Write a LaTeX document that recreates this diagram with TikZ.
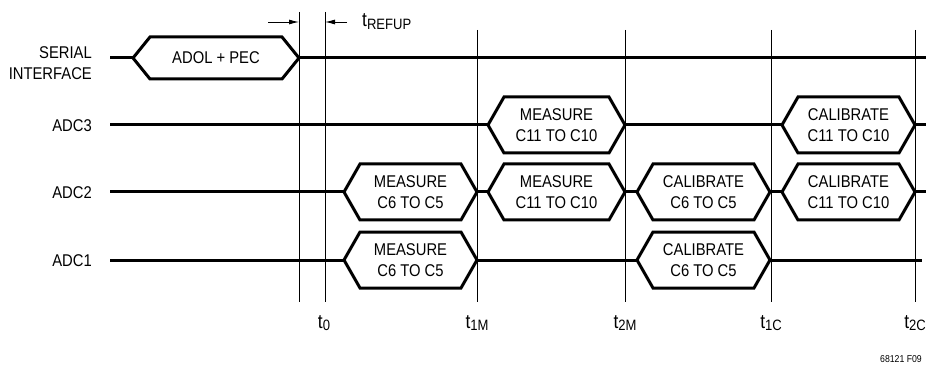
\documentclass[tikz,border=0pt]{standalone}
\usepackage{fontspec}
\setmainfont{Liberation Sans}[FakeStretch=0.87]
\usetikzlibrary{arrows.meta, calc}

\tikzset{
 sig/.style={line width=3pt},
 mark line/.style={line width=0.9pt},
 lbl/.style={inner sep=0pt, align=center, font=\fontsize{17}{20.5}\selectfont},
 name lbl/.style={inner sep=0pt, align=right, anchor=east, font=\fontsize{17}{21.5}\selectfont},
 tarrow/.style={line width=0.9pt, -{Latex[length=10pt,width=5pt]}}
}

% time label: t with a subscript
\newcommand{\tlab}[1]{{\fontsize{20}{20}\selectfont t}\raisebox{-0.3ex}{\fontsize{15}{15}\selectfont #1}}

% bus box: name, left tip x, right tip x, y, half height, slant, text
\newcommand{\busbox}[7]{
 \coordinate (#1L) at (#2,#4);
 \coordinate (#1R) at (#3,#4);
 \draw[sig] (#1L) -- ++(#6,#5) -- ($(#1R)+(-#6,#5)$) -- (#1R)
   -- ($(#1R)+(-#6,-#5)$) -- ($(#1L)+(#6,-#5)$) -- cycle;
 \node[lbl] (#1) at ($(#1L)!0.5!(#1R)$) {#7};
}

\begin{document}
\begin{tikzpicture}[x=1pt, y=-1pt]

\useasboundingbox (0,0) rectangle (926,366);

 % row names
 \node[name lbl] (serial) at (92,63) {SERIAL\\INTERFACE};
 \node[name lbl] (adc3) at (92,126) {ADC3};
 \node[name lbl] (adc2) at (92,193) {ADC2};
 \node[name lbl] (adc1) at (92,261) {ADC1};

 % time marks
 \foreach \x/\n/\yt in {299/ta/12, 325/t0/12, 477/t1M/30, 625/t2M/30, 771/t1C/30, 915/t2C/30}{
  \coordinate (\n-top) at (\x,\yt);
  \coordinate (\n-bot) at (\x,302);
  \draw[mark line] (\n-top) -- (\n-bot);
 }
 \node[lbl, anchor=base] (lt0) at (324,328) {\tlab{0}};
 \node[lbl, anchor=base] (lt1M) at (477,328) {\tlab{1M}};
 \node[lbl, anchor=base] (lt2M) at (625,328) {\tlab{2M}};
 \node[lbl, anchor=base] (lt1C) at (771,328) {\tlab{1C}};
 \node[lbl, anchor=base] (lt2C) at (915,328) {\tlab{2C}};

 % t_REFUP
 \coordinate (ra) at (268,22);
 \coordinate (rb) at (347,22);
 \draw[tarrow] (ra) -- (ta-top |- ra);
 \draw[tarrow] (rb) -- (t0-top |- rb);
 \node[lbl, anchor=base west] (refup) at (362,27) {\tlab{REFUP}};

 % serial interface
 \coordinate (s0) at (110,58);
 \coordinate (s1) at (926,58);
 \busbox{ser}{133}{299}{58}{21}{17}{ADOL + PEC}
 \draw[sig] (s0) -- (serL);
 \draw[sig] (serR) -- (s1);

 % ADC3
 \coordinate (c3a) at (110,125);
 \coordinate (c3b) at (926,125);
 \busbox{m3}{488}{625}{125}{28}{16}{MEASURE\\C11 TO C10}
 \busbox{k3}{782}{915}{125}{28}{16}{CALIBRATE\\C11 TO C10}
 \draw[sig] (c3a) -- (m3L);
 \draw[sig] (m3R) -- (k3L);
 \draw[sig] (k3R) -- (c3b);

 % ADC2
 \coordinate (c2a) at (110,192);
 \coordinate (c2b) at (926,192);
 \busbox{m2a}{344}{477}{192}{28}{16}{MEASURE\\C6 TO C5}
 \busbox{m2b}{488}{625}{192}{28}{16}{MEASURE\\C11 TO C10}
 \busbox{k2a}{637}{770}{192}{28}{16}{CALIBRATE\\C6 TO C5}
 \busbox{k2b}{782}{915}{192}{28}{16}{CALIBRATE\\C11 TO C10}
 \draw[sig] (c2a) -- (m2aL);
 \draw[sig] (m2aR) -- (m2bL);
 \draw[sig] (m2bR) -- (k2aL);
 \draw[sig] (k2aR) -- (k2bL);
 \draw[sig] (k2bR) -- (c2b);

 % ADC1
 \coordinate (c1a) at (110,260);
 \coordinate (c1b) at (922,260);
 \busbox{m1}{344}{477}{260}{28}{16}{MEASURE\\C6 TO C5}
 \busbox{k1}{637}{770}{260}{28}{16}{CALIBRATE\\C6 TO C5}
 \draw[sig] (c1a) -- (m1L);
 \draw[sig] (m1R) -- (k1L);
 \draw[sig] (k1R) -- (c1b);

 \node[inner sep=0pt, anchor=base east, font=\fontsize{10}{10}\selectfont] (fig) at (922,362) {68121 F09};

\end{tikzpicture}
\end{document}
